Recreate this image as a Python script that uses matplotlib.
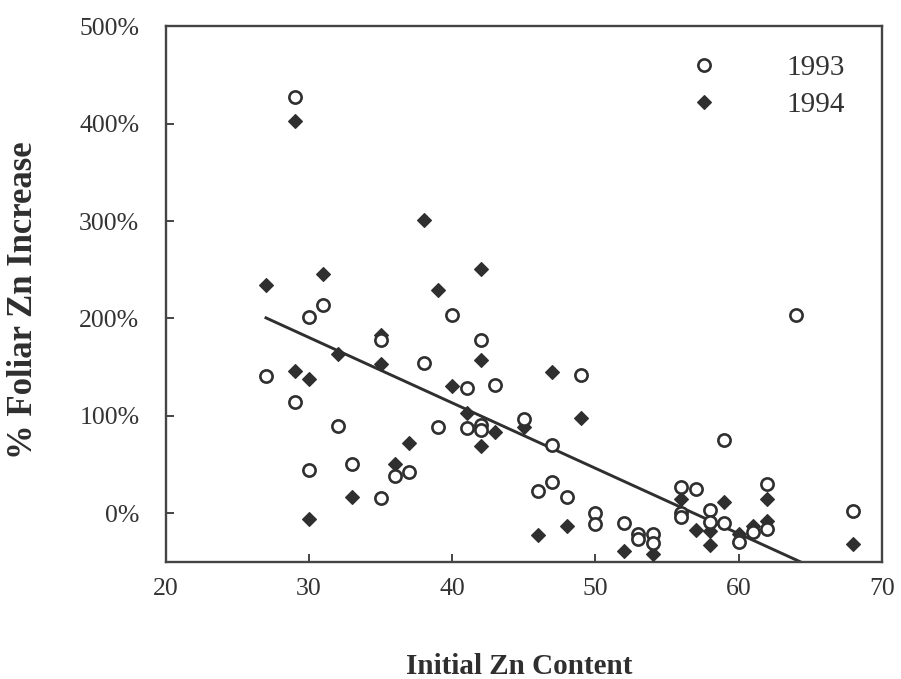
import matplotlib
import matplotlib.pyplot as plt
from matplotlib.ticker import PercentFormatter
import numpy as np

matplotlib.use("Agg")

plt.rcParams["font.family"] = ["Liberation Serif", "DejaVu Serif"]

INK = "#2f2f2f"

# 1993 season (open circles): initial Zn content, % foliar Zn increase
x_1993 = [27, 29, 29, 30, 30, 31, 32, 33, 35, 35, 36, 37, 38, 39, 40, 41, 41,
          42, 42, 42, 43, 45, 46, 47, 47, 48, 49, 50, 50, 52, 53, 53, 54, 54,
          56, 56, 56, 57, 58, 58, 59, 59, 60, 61, 62, 62, 64, 68]
y_1993 = [141, 427, 114, 201, 44, 214, 89, 50, 178, 15, 38, 42, 154, 88, 204,
          128, 87, 178, 90, 85, 132, 97, 23, 70, 32, 17, 142, 0, -11, -10, -22,
          -27, -22, -31, 27, 0, -4, 25, 3, -9, 75, -10, -30, -19, 30, -16, 204, 2]

# 1994 season (filled diamonds)
x_1994 = [27, 29, 29, 30, 30, 31, 32, 33, 35, 35, 36, 37, 38, 39, 40, 41, 42,
          42, 42, 43, 45, 46, 47, 48, 49, 52, 54, 56, 57, 58, 58, 59, 60, 61,
          62, 62, 68]
y_1994 = [234, 403, 146, 138, -6, 246, 163, 16, 153, 183, 50, 72, 301, 229,
          131, 103, 251, 157, 69, 83, 88, -23, 145, -13, 98, -39, -42, 14, -17,
          -18, -33, 11, -21, -13, 14, -8, -32]

# fitted trend line
fit_slope = -6.72
fit_intercept = 382.0
fit_x = [27, 70]

x_ticks = [20, 30, 40, 50, 60, 70]
y_ticks = [0, 100, 200, 300, 400, 500]

fig = plt.figure(figsize=(9.01, 6.79), dpi=100)
ax = fig.add_axes([0.1839, 0.1727, 0.7950, 0.7884])

fx = np.array(fit_x, dtype=float)
ax.plot(fx, fit_intercept + fit_slope * fx, color=INK, lw=2.1, zorder=2)

ax.plot(x_1994, y_1994, linestyle="none", marker="D", ms=6.8,
        markerfacecolor=INK, markeredgecolor=INK, mew=0.8, zorder=3,
        label="1994")
ax.plot(x_1993, y_1993, linestyle="none", marker="o", ms=8.8,
        markerfacecolor="white", markeredgecolor=INK, mew=1.9, zorder=4,
        label="1993")

ax.set_xlim(20, 70)
ax.set_ylim(-50, 500)
ax.set_xticks(x_ticks)
ax.set_yticks(y_ticks)
ax.yaxis.set_major_formatter(PercentFormatter(xmax=100, decimals=0))

ax.tick_params(axis="both", direction="in", length=6, width=1.4,
               color="#444444", labelcolor="#333333", labelsize=18.5)
ax.tick_params(axis="x", pad=12)
ax.tick_params(axis="y", pad=19)

for side in ["left", "bottom", "top", "right"]:
    ax.spines[side].set_linewidth(1.7)
    ax.spines[side].set_color("#444444")

ax.set_xlabel("Initial Zn Content", fontsize=21, fontweight="bold", color="#2f2f2f")
ax.set_ylabel("% Foliar Zn Increase", fontsize=25, fontweight="bold", color="#2f2f2f")
ax.xaxis.set_label_coords(0.494, -0.1706)
ax.yaxis.set_label_coords(-0.176, 0.489)

handles, labels = ax.get_legend_handles_labels()
order = [1, 0]
ax.legend([handles[i] for i in order], [labels[i] for i in order],
          loc="upper left", bbox_to_anchor=(0.7313, 0.947), frameon=False,
          borderpad=0, borderaxespad=0, handlelength=1.0, handletextpad=2.33,
          labelspacing=0.36, fontsize=21, labelcolor="#333333")

fig.savefig("out.png", dpi=100)
